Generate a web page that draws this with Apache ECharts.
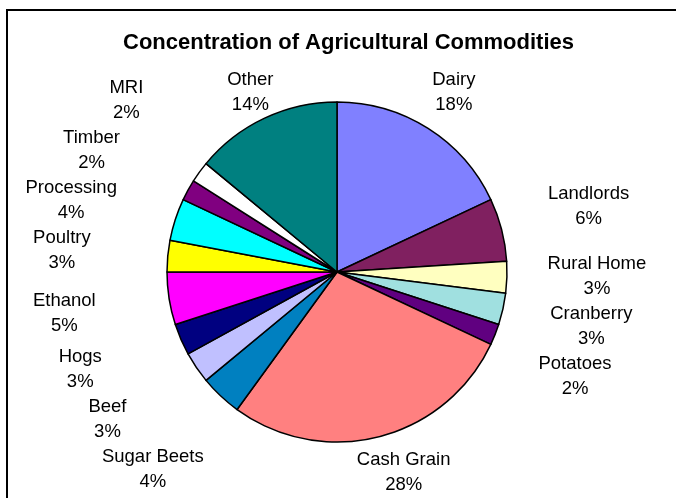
<!DOCTYPE html>
<html>
<head>
<meta charset="utf-8">
<script src="https://cdn.jsdelivr.net/npm/echarts@6/dist/echarts.min.js"></script>
<style>html,body{margin:0;padding:0;background:#fff}#c{width:676px;height:498px}</style>
</head>
<body>
<div id="c"></div>
<script>
const titleText = 'Concentration of Agricultural Commodities';
const categories = ['Dairy','Landlords','Rural Home','Cranberry','Potatoes','Cash Grain','Sugar Beets','Beef','Hogs','Ethanol','Poultry','Processing','Timber','MRI','Other'];
const shares = [18, 6, 3, 3, 2, 28, 4, 3, 3, 5, 3, 4, 2, 2, 14];
const colors = ['#8080FF','#802060','#FFFFC0','#A0E0E0','#600080','#FF8080','#0080C0','#C0C0FF','#000080','#FF00FF','#FFFF00','#00FFFF','#800080','#FFFFFF','#008080'];

const FONT = 'Liberation Sans, Arial, sans-serif';
const FS = 18.5, LH = 25;
const CX = 337, CY = 272, R = 170;
const LCX = 329, LRX = 268, LRY = 262, YMIN = 92, YMAX = 472, BLOCK_H = 50;

// label placement derived from the data angles
const total = shares.reduce((a, b) => a + b, 0);
const ctx = document.createElement('canvas').getContext('2d');
ctx.font = FS + 'px ' + FONT;
const labels = [];
let cum = 0;
shares.forEach((v, i) => {
  const a = 2 * Math.PI * (cum + v / 2) / total;
  cum += v;
  const sx = Math.sin(a), sy = -Math.cos(a);
  const y0 = CY + sy * LRY;
  let x, y, fixed = false;
  if (y0 < YMIN) {
    const t = (YMIN - CY) / (sy * LRY);
    x = CX + sx * LRX * t; y = YMIN; fixed = true;
  } else if (y0 > YMAX) {
    x = CX + sx * LRX; y = YMAX; fixed = true;
  } else {
    x = LCX + sx * LRX; y = y0;
  }
  const w = Math.max(ctx.measureText(categories[i]).width, ctx.measureText(Math.round(v / total * 100) + '%').width);
  labels.push({x: x, y: y, w: w, side: sx >= 0 ? 1 : -1, fixed: fixed});
});
function ellipseX(l) {
  const k = Math.max(0, 1 - Math.pow((l.y - CY) / LRY, 2));
  return LCX + l.side * LRX * Math.sqrt(k);
}
for (let it = 0; it < 200; it++) {
  for (let i = 0; i < labels.length; i++) {
    for (let j = i + 1; j < labels.length; j++) {
      const A = labels[i], B = labels[j];
      if (A.side !== B.side) continue;
      if (Math.abs(A.x - B.x) >= (A.w + B.w) / 2) continue;
      const dy = B.y - A.y;
      const need = BLOCK_H - Math.abs(dy);
      if (need <= 0) continue;
      const dir = dy >= 0 ? 1 : -1;
      if (A.fixed && B.fixed) continue;
      if (A.fixed) B.y += dir * need;
      else if (B.fixed) A.y -= dir * need;
      else { A.y -= dir * need / 2; B.y += dir * need / 2; }
    }
  }
  labels.forEach(l => {
    if (l.fixed) return;
    l.y = Math.min(YMAX, Math.max(YMIN, l.y));
    l.x = ellipseX(l);
  });
}

const chart = echarts.init(document.getElementById('c'), null, {renderer: 'canvas'});
chart.setOption({
  backgroundColor: '#fff',
  animation: false,
  title: {
    text: titleText,
    left: 118, top: 27,
    textStyle: {fontFamily: FONT, fontWeight: 'bold', fontSize: 22, color: '#000'}
  },
  graphic: [{
    type: 'rect', silent: true,
    shape: {x: 7, y: 10, width: 800, height: 800},
    style: {fill: 'none', stroke: '#000', lineWidth: 2}
  }],
  series: [{
    type: 'pie',
    center: [CX, CY],
    radius: R,
    startAngle: 90,
    clockwise: true,
    avoidLabelOverlap: false,
    data: categories.map((n, i) => ({name: n, value: shares[i], itemStyle: {color: colors[i]}})),
    itemStyle: {borderColor: '#000', borderWidth: 1.5},
    emphasis: {disabled: true},
    label: {
      show: true,
      position: 'outside',
      formatter: p => p.name + '\n' + Math.round(p.percent) + '%',
      fontFamily: FONT,
      fontSize: FS,
      lineHeight: LH,
      color: '#000'
    },
    labelLine: {show: false},
    labelLayout: function (params) {
      const l = labels[params.dataIndex];
      return {x: l.x, y: l.y, align: 'center', verticalAlign: 'middle'};
    }
  }]
});
</script>
</body>
</html>
